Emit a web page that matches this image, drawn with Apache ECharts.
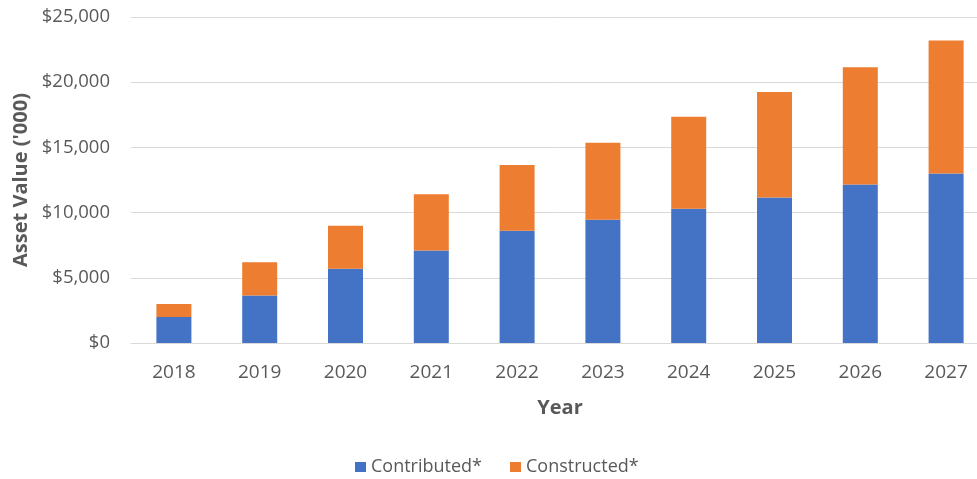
<!DOCTYPE html>
<html>
<head>
<meta charset="utf-8">
<script src="https://cdn.jsdelivr.net/npm/echarts@6/dist/echarts.min.js"></script>
<style>
  html, body { margin: 0; padding: 0; background: #fff; }
  #chart { width: 977px; height: 479px; }
</style>
</head>
<body>
<div id="chart"></div>
<script>
// Asset values by year, in thousands of dollars
const years = ['2018', '2019', '2020', '2021', '2022', '2023', '2024', '2025', '2026', '2027'];
const contributed = [2000, 3650, 5700, 7100, 8600, 9450, 10300, 11150, 12150, 13000];
const constructed = [1000, 2550, 3300, 4300, 5050, 5900, 7050, 8100, 9000, 10200];
const yTicks = { min: 0, max: 25000, interval: 5000 };

const FONT = '"Open Sans", sans-serif';
const GREY = '#595959';

const chart = echarts.init(document.getElementById('chart'));
chart.setOption({
  animation: false,
  textStyle: { fontFamily: FONT },
  grid: {
    left: 131, right: -12, top: 17, bottom: 136,
    containLabel: false, outerBoundsMode: 'none'
  },
  legend: {
    top: 458,
    left: 355,
    padding: 0,
    itemWidth: 11,
    itemHeight: 10,
    itemGap: 28,
    icon: 'rect',
    textStyle: { fontFamily: FONT, fontSize: 18, color: GREY },
    data: ['Contributed*', 'Constructed*']
  },
  xAxis: {
    type: 'category',
    data: years,
    name: 'Year',
    nameLocation: 'middle',
    nameGap: 55,
    nameTextStyle: { fontFamily: FONT, fontSize: 20, fontWeight: 'bold', color: GREY },
    axisLine: { lineStyle: { color: '#d9d9d9', width: 1 } },
    axisTick: { show: false },
    axisLabel: { fontFamily: FONT, fontSize: 19, color: GREY, margin: 20 }
  },
  yAxis: {
    type: 'value',
    min: yTicks.min,
    max: yTicks.max,
    interval: yTicks.interval,
    name: "Asset Value ('000)",
    nameLocation: 'middle',
    nameGap: 99,
    nameTextStyle: { fontFamily: FONT, fontSize: 20, fontWeight: 'bold', color: GREY },
    axisLine: { show: false },
    axisTick: { show: false },
    splitLine: { lineStyle: { color: '#d9d9d9', width: 1 } },
    axisLabel: {
      fontFamily: FONT, fontSize: 18.5, color: GREY, margin: 21,
      formatter: v => '$' + v.toLocaleString('en-US')
    }
  },
  series: [
    {
      name: 'Contributed*', type: 'bar', stack: 'total', data: contributed,
      barWidth: 35, itemStyle: { color: '#4472C4' }
    },
    {
      name: 'Constructed*', type: 'bar', stack: 'total', data: constructed,
      barWidth: 35, itemStyle: { color: '#ED7D31' }
    }
  ]
});
</script>
</body>
</html>
